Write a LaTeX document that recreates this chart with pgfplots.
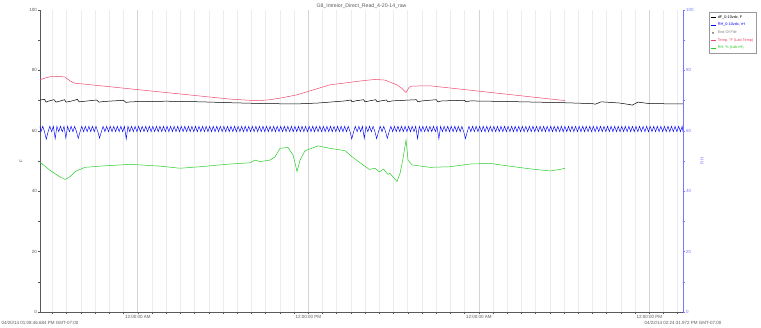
\documentclass[border=0pt]{standalone}
\usepackage{pgfplots}
\pgfplotsset{compat=1.18}
\usepackage{pgfplotstable}
\usepackage{fontspec}
\setmainfont{Liberation Sans}
\definecolor{tempred}{RGB}{238,72,110}
\definecolor{rhgreen}{RGB}{40,205,40}
\definecolor{rhblue}{RGB}{0,0,255}
\definecolor{axblue}{RGB}{120,120,255}
\definecolor{gridmin}{RGB}{236,236,236}
\definecolor{gridmaj}{RGB}{212,212,212}
\definecolor{axgray}{RGB}{90,90,90}

% time in hours since 04/20/14 00:00
\pgfplotstableread{
h v
17.12 70.2
17.45 70.4
17.54 69.5
17.70 69.8
18.10 70.3
18.25 69.5
18.50 69.8
18.85 70.3
18.95 69.5
19.30 69.8
19.75 70.4
19.87 69.6
20.30 69.8
21.10 70.2
21.27 69.5
21.60 69.7
23.00 70.1
23.17 69.4
23.50 69.6
26.00 69.8
28.40 69.6
30.50 69.3
33.00 69.0
35.20 68.9
36.70 69.2
38.60 69.9
39.00 70.2
39.08 69.6
39.30 69.9
39.90 70.3
39.99 69.6
40.30 69.9
40.75 70.3
40.84 69.6
41.10 69.9
41.50 70.2
41.61 69.6
41.90 69.9
43.60 70.3
43.72 69.6
44.00 69.9
45.00 70.3
45.13 69.6
45.40 69.9
47.00 70.1
47.10 69.6
47.40 69.9
50.00 69.7
54.00 69.3
56.00 69.0
56.20 68.8
56.60 69.6
57.90 69.2
58.60 68.7
58.80 68.5
59.20 69.5
60.00 69.0
62.37 68.9
}\dfdata

\pgfplotstableread{
h v
17.12 76.9
17.50 77.5
17.83 77.9
18.50 78.0
18.88 77.8
19.24 76.5
19.60 75.7
19.94 75.6
30.49 70.5
31.90 70.1
32.60 70.0
33.30 70.3
34.00 70.8
35.20 71.9
37.50 75.2
39.85 76.6
40.70 77.0
41.40 76.8
42.24 75.2
42.60 74.0
42.88 72.7
43.10 74.4
43.30 74.8
44.57 74.9
54.07 70.0
}\tempdata

\pgfplotstableread{
h v
17.12 49.6
17.80 47.0
18.50 44.8
18.88 43.9
19.24 44.8
19.59 46.5
20.29 47.9
21.35 48.3
23.46 48.9
25.57 48.3
26.97 47.6
28.38 48.1
30.49 49.0
31.90 49.4
32.25 50.3
32.60 49.8
33.31 50.3
33.66 51.4
34.01 54.2
34.57 54.5
34.93 52.0
35.21 46.5
35.42 50.3
35.77 53.4
36.69 55.0
37.53 54.2
38.59 53.4
39.08 51.4
39.85 48.7
40.30 47.2
40.70 47.6
41.00 46.4
41.30 47.3
41.60 45.6
41.75 45.9
42.00 44.5
42.24 43.2
42.46 46.0
42.67 50.9
42.88 57.0
43.02 50.3
43.30 48.7
44.57 47.9
45.97 48.1
47.38 49.0
48.79 49.2
49.85 48.5
51.60 47.4
53.01 46.7
53.71 47.2
54.07 47.6
}\labrhdata

\begin{document}
\begin{tikzpicture}
\useasboundingbox (-40pt,-15pt) rectangle (721pt,312pt);
\begin{axis}[
  name=main,
  scale only axis, width=643pt, height=302pt,
  at={(0,0)}, anchor=south west,
  xmin=17.12, xmax=62.37, ymin=0, ymax=100,
  axis x line*=bottom, axis y line*=left,
  axis line style={axgray, line width=0.6pt},
  tick align=outside,
  major tick length=2pt, minor tick length=2pt,
  tick style={axgray, line width=0.5pt},
  xtick={24,36,48,60},
  xticklabels={12:00:00 AM,12:00:00 PM,12:00:00 AM,12:00:00 PM},
  minor xtick={18,19,...,62},
  xmajorgrids, xminorgrids,
  major x grid style={gridmaj, line width=0.6pt},
  minor x grid style={gridmin, line width=0.6pt},
  ytick={0,20,...,100}, minor ytick={10,30,...,90},
  /pgf/number format/assume math mode=true,
  ticklabel style={font=\fontsize{4.5}{5}\selectfont, text=axgray, inner sep=1pt},
  ylabel={F},
  every axis y label/.style={at={(rel axis cs:0,0.5)}, xshift=-19pt, rotate=90, anchor=center, font=\fontsize{4.5}{5}\selectfont, text=axgray},
  title={G8\_Intreior\_Direct\_Read\_4-20-14\_raw},
  every axis title/.style={at={(0.5,1)}, anchor=base, yshift=2.2pt, inner sep=0pt, font=\fontsize{5.2}{6}\selectfont, text=axgray},
  legend style={at={(1.0404,0.993)}, anchor=north west, draw=gray!80, line width=0.6pt,
    font=\fontsize{3.8}{4.4}\selectfont, inner sep=1pt, row sep=-0.6pt, fill=white},
  legend cell align=left,
  legend image code/.code={\draw[mark repeat=2,mark phase=2,#1] plot coordinates {(0pt,0pt) (2.5pt,0pt) (5pt,0pt)};},
]
\addplot[black, line width=0.5pt] table[x=h,y=v] {\dfdata};
\addlegendentry{\textcolor{black}{dF\_0-10vdc, F}}
\addplot[rhblue, line width=0.45pt] coordinates {
(17.12,61.5)(17.19,59.7)(17.31,61.5)(17.44,59.7)(17.56,57.2)(17.69,59.7)(17.81,61.5)(17.94,59.7)
(18.06,61.5)(18.19,57.4)(18.31,61.5)(18.44,59.7)(18.56,61.5)(18.69,59.7)(18.81,61.5)(18.94,57.6)
(19.06,61.5)(19.19,59.7)(19.31,61.5)(19.44,59.7)(19.56,61.5)(19.69,59.7)(19.81,57.5)(19.94,59.7)
(20.06,61.5)(20.19,59.7)(20.31,61.5)(20.44,59.7)(20.56,61.5)(20.69,59.7)(20.81,61.5)(20.94,59.7)
(21.06,61.5)(21.19,59.7)(21.31,57.6)(21.44,59.7)(21.56,61.5)(21.69,59.7)(21.81,61.5)(21.94,59.7)
(22.06,61.5)(22.19,59.7)(22.31,61.5)(22.44,59.7)(22.56,61.5)(22.69,59.7)(22.81,61.5)(22.94,59.7)
(23.06,61.5)(23.19,57.3)(23.31,61.5)(23.44,59.7)(23.56,61.5)(23.69,59.7)(23.81,61.5)(23.94,59.7)
(24.06,61.5)(24.19,59.7)(24.31,61.5)(24.44,59.7)(24.56,61.5)(24.69,59.7)(24.81,61.5)(24.94,59.7)
(25.06,61.5)(25.19,59.7)(25.31,61.5)(25.44,59.7)(25.56,61.5)(25.69,59.7)(25.81,61.5)(25.94,59.7)
(26.06,61.5)(26.19,59.7)(26.31,61.5)(26.44,59.7)(26.56,61.5)(26.69,59.7)(26.81,61.5)(26.94,59.7)
(27.06,61.5)(27.19,59.7)(27.31,61.5)(27.44,59.7)(27.56,61.5)(27.69,59.7)(27.81,61.5)(27.94,59.7)
(28.06,61.5)(28.19,59.7)(28.31,61.5)(28.44,59.7)(28.56,61.5)(28.69,59.7)(28.81,61.5)(28.94,59.7)
(29.06,61.5)(29.19,59.7)(29.31,61.5)(29.44,59.7)(29.56,61.5)(29.69,59.7)(29.81,61.5)(29.94,59.7)
(30.06,61.5)(30.19,59.7)(30.31,61.5)(30.44,59.7)(30.56,61.5)(30.69,59.7)(30.81,61.5)(30.94,59.7)
(31.06,61.5)(31.19,59.7)(31.31,61.5)(31.44,59.7)(31.56,61.5)(31.69,59.7)(31.81,61.5)(31.94,59.7)
(32.06,61.5)(32.19,59.7)(32.31,61.5)(32.44,59.7)(32.56,61.5)(32.69,59.7)(32.81,61.5)(32.94,59.7)
(33.06,61.5)(33.19,59.7)(33.31,61.5)(33.44,59.7)(33.56,61.5)(33.69,59.7)(33.81,61.5)(33.94,59.7)
(34.06,61.5)(34.19,59.7)(34.31,61.5)(34.44,59.7)(34.56,61.5)(34.69,59.7)(34.81,61.5)(34.94,59.7)
(35.06,61.5)(35.19,59.7)(35.31,61.5)(35.44,59.7)(35.56,61.5)(35.69,59.7)(35.81,61.5)(35.94,59.7)
(36.06,61.5)(36.19,59.7)(36.31,61.5)(36.44,59.7)(36.56,61.5)(36.69,59.7)(36.81,61.5)(36.94,59.7)
(37.06,61.5)(37.19,59.7)(37.31,61.5)(37.44,59.7)(37.56,61.5)(37.69,59.7)(37.81,61.5)(37.94,59.7)
(38.06,61.5)(38.19,59.7)(38.31,61.5)(38.44,59.7)(38.56,61.5)(38.69,59.7)(38.81,61.5)(38.94,59.7)
(39.06,57.3)(39.19,59.7)(39.31,61.5)(39.44,59.7)(39.56,61.5)(39.69,59.7)(39.81,61.5)(39.94,57.5)
(40.06,61.5)(40.19,59.7)(40.31,61.5)(40.44,59.7)(40.56,61.5)(40.69,59.7)(40.81,57.4)(40.94,59.7)
(41.06,61.5)(41.19,59.7)(41.31,61.5)(41.44,59.7)(41.56,57.5)(41.69,59.7)(41.81,61.5)(41.94,59.7)
(42.06,61.5)(42.19,59.7)(42.31,61.5)(42.44,59.7)(42.56,61.5)(42.69,59.7)(42.81,61.5)(42.94,59.7)
(43.06,61.5)(43.19,59.7)(43.31,61.5)(43.44,59.7)(43.56,61.5)(43.69,57.4)(43.81,61.5)(43.94,59.7)
(44.06,61.5)(44.19,59.7)(44.31,61.5)(44.44,59.7)(44.56,61.5)(44.69,59.7)(44.81,61.5)(44.94,59.7)
(45.06,61.5)(45.19,57.3)(45.31,61.5)(45.44,59.7)(45.56,61.5)(45.69,59.7)(45.81,61.5)(45.94,59.7)
(46.06,61.5)(46.19,59.7)(46.31,61.5)(46.44,59.7)(46.56,61.5)(46.69,59.7)(46.81,61.5)(46.94,59.7)
(47.06,57.4)(47.19,59.7)(47.31,61.5)(47.44,59.7)(47.56,61.5)(47.69,59.7)(47.81,61.5)(47.94,59.7)
(48.06,61.5)(48.19,59.7)(48.31,61.5)(48.44,59.7)(48.56,61.5)(48.69,59.7)(48.81,61.5)(48.94,59.7)
(49.06,61.5)(49.19,59.7)(49.31,61.5)(49.44,59.7)(49.56,61.5)(49.69,59.7)(49.81,61.5)(49.94,59.7)
(50.06,61.5)(50.19,59.7)(50.31,61.5)(50.44,59.7)(50.56,61.5)(50.69,59.7)(50.81,61.5)(50.94,59.7)
(51.06,61.5)(51.19,59.7)(51.31,61.5)(51.44,59.7)(51.56,61.5)(51.69,59.7)(51.81,61.5)(51.94,59.7)
(52.06,61.5)(52.19,59.7)(52.31,61.5)(52.44,59.7)(52.56,61.5)(52.69,59.7)(52.81,61.5)(52.94,59.7)
(53.06,61.5)(53.19,59.7)(53.31,61.5)(53.44,59.7)(53.56,61.5)(53.69,59.7)(53.81,61.5)(53.94,59.7)
(54.06,61.5)(54.19,59.7)(54.31,61.5)(54.44,59.7)(54.56,61.5)(54.69,59.7)(54.81,61.5)(54.94,59.7)
(55.06,61.5)(55.19,59.7)(55.31,61.5)(55.44,59.7)(55.56,61.5)(55.69,59.7)(55.81,61.5)(55.94,59.7)
(56.06,61.5)(56.19,59.7)(56.31,61.5)(56.44,59.7)(56.56,61.5)(56.69,59.7)(56.81,61.5)(56.94,59.7)
(57.06,61.5)(57.19,59.7)(57.31,61.5)(57.44,59.7)(57.56,61.5)(57.69,59.7)(57.81,61.5)(57.94,59.7)
(58.06,61.5)(58.19,59.7)(58.31,61.5)(58.44,59.7)(58.56,61.5)(58.69,59.7)(58.81,61.5)(58.94,59.7)
(59.06,61.5)(59.19,59.7)(59.31,61.5)(59.44,59.7)(59.56,61.5)(59.69,59.7)(59.81,61.5)(59.94,59.7)
(60.06,61.5)(60.19,59.7)(60.31,61.5)(60.44,59.7)(60.56,61.5)(60.69,59.7)(60.81,61.5)(60.94,59.7)
(61.06,61.5)(61.19,59.7)(61.31,61.5)(61.44,59.7)(61.56,61.5)(61.69,59.7)(61.81,61.5)(61.94,59.7)
(62.06,61.5)(62.19,59.7)(62.31,61.5)(62.37,59.7)
};
\addlegendentry{\textcolor{rhblue}{RH\_0-10vdc, rH}}
\addlegendimage{only marks, mark=x, mark size=1pt, gray}
\addlegendentry{\textcolor{gray}{End Of File}}
\addplot[tempred, line width=0.5pt] table[x=h,y=v] {\tempdata};
\addlegendentry{\textcolor{tempred}{Temp, °F (Lab Temp)}}
\addplot[rhgreen, line width=0.5pt] table[x=h,y=v] {\labrhdata};
\addlegendentry{\textcolor{rhgreen}{RH, \% (Lab rH)}}
\end{axis}
\begin{axis}[
  scale only axis, width=643pt, height=302pt,
  at={(0,0)}, anchor=south west,
  xmin=17.12, xmax=62.37, ymin=0, ymax=100,
  axis x line=none, axis y line*=right,
  xtick=\empty,
  axis line style={axblue, line width=0.8pt},
  tick align=outside,
  major tick length=2pt, minor tick length=2pt,
  tick style={axblue, line width=0.5pt},
  ytick={0,20,...,100}, minor ytick={10,30,...,90},
  /pgf/number format/assume math mode=true,
  yticklabel style={font=\fontsize{4.5}{5}\selectfont, text=axblue, inner sep=1pt},
  ylabel={RH},
  every axis y label/.style={at={(rel axis cs:1,0.5)}, xshift=19pt, rotate=90, anchor=center, font=\fontsize{4.5}{5}\selectfont, text=axblue},
]
\addplot[draw=none] coordinates {(20,50)};
\end{axis}
\node[font=\fontsize{4.5}{5}\selectfont, text=axgray, anchor=base] at ([yshift=-12pt]main.south west) {04/20/14 01:08:46.684 PM GMT-07:00};
\node[font=\fontsize{4.5}{5}\selectfont, text=axgray, anchor=base] at ([yshift=-12pt]main.south east) {04/22/14 02:24:31.972 PM GMT-07:00};
\end{tikzpicture}
\end{document}
